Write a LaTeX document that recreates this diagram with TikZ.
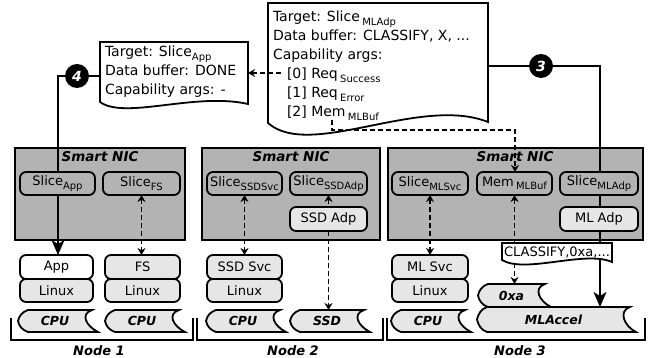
\documentclass[tikz,border=0pt]{standalone}
\usepackage{fontspec}
\setmainfont{DejaVu Sans}
\usetikzlibrary{arrows.meta,calc}
\definecolor{nicgray}{RGB}{179,179,179}
\definecolor{partgray}{RGB}{230,230,230}
\pgfdeclarelayer{under}
\pgfdeclarelayer{wires}
\pgfsetlayers{under,wires,main}
% lowered, smaller index text
\newcommand{\lowsub}[1]{\raisebox{-3.5pt}{\fontsize{10}{10}\selectfont #1}}
% outline of a hardware unit: pointed left end, hollow right end
\newcommand{\hwshape}[1]{%
  \draw[hwline] ($(#1.north west)+(10,0)$) -- (#1.north east)
    .. controls +(-12,4) and +(-12,-6) .. ($(#1.south east)+(6,0)$)
    -- ($(#1.south west)+(10,0)$)
    .. controls +(-6,-2) and +(1,5) .. (#1.west)
    .. controls +(1,-5) and +(-6,2) .. ($(#1.north west)+(10,0)$) -- cycle;}

\begin{document}
\begin{tikzpicture}[x=1pt,y=-1pt,
  every node/.style={inner sep=0pt,outer sep=0pt},
  nicbox/.style={draw,line width=1.8pt,fill=nicgray,anchor=north west},
  niclabel/.style={font=\fontsize{13.5}{14}\selectfont\bfseries\itshape},
  part/.style={draw,line width=1.8pt,rounded corners=6pt,fill=nicgray,minimum height=23pt,font=\fontsize{13}{14}\selectfont},
  lightpart/.style={part,fill=partgray},
  whitepart/.style={part,fill=white},
  hwunit/.style={minimum height=22pt,font=\fontsize{12.5}{13}\selectfont\bfseries\itshape},
  hwline/.style={draw,line width=1.8pt,fill=partgray},
  docline/.style={draw,line width=1.8pt,fill=white},
  doctext/.style={anchor=north west,align=left,font=\fontsize{14}{19}\selectfont},
  badge/.style={circle,fill=black,minimum size=24pt,text=white,font=\fontsize{14}{14}\selectfont\bfseries\itshape},
  flow/.style={line width=2pt,-{Stealth[length=15pt,width=13pt,inset=4pt]}},
  link/.style={line width=1.9pt,dash pattern=on 5pt off 3pt,>={Stealth[length=7pt,width=8pt]}},
  nodelabel/.style={font=\fontsize{13}{13}\selectfont\bfseries\itshape},
  bracket/.style={line width=1.6pt}
]
\useasboundingbox (0,0) rectangle (649,358);

% ---------- smart NIC boards ----------
\begin{pgfonlayer}{under}
\node[nicbox,minimum width=170pt,minimum height=92pt] (nic1) at (15,148) {};
\node[nicbox,minimum width=178pt,minimum height=92pt] (nic2) at (202,148) {};
\node[nicbox,minimum width=255pt,minimum height=92pt] (nic3) at (388,148) {};
\end{pgfonlayer}
\node[niclabel] (nicname1) at (100,157) {Smart NIC};
\node[niclabel] (nicname2) at (291,157) {Smart NIC};
\node[niclabel] (nicname3) at (515,157) {Smart NIC};

% ---------- node 1 ----------
\node[part,minimum width=75pt] (sliceApp) at (57.5,183.5) {Slice\lowsub{App}};
\node[part,minimum width=77pt] (sliceFS) at (141.5,183.5) {Slice\lowsub{FS}};
\node[whitepart,minimum width=73pt,minimum height=24pt] (app) at (56.5,267) {App};
\node[lightpart,minimum width=73pt] (linuxA) at (56.5,290.5) {Linux};
\node[lightpart,minimum width=75pt,minimum height=24pt] (fs) at (142.5,267) {FS};
\node[lightpart,minimum width=75pt] (linuxB) at (142.5,290.5) {Linux};
\node[hwunit,minimum width=74pt] (cpuA) at (55,321) {CPU};
\node[hwunit,minimum width=74pt] (cpuB) at (142,321) {CPU};

% ---------- node 2 ----------
\node[part,minimum width=75pt] (sliceSSDSvc) at (244.5,183.5) {Slice\lowsub{SSDSvc}};
\node[part,minimum width=77pt] (sliceSSDAdp) at (328.5,183.5) {Slice\lowsub{SSDAdp}};
\node[lightpart,minimum width=77pt,minimum height=24pt] (ssdAdp) at (328.5,219) {SSD Adp};
\node[lightpart,minimum width=75pt,minimum height=24pt] (ssdSvc) at (244.5,267) {SSD Svc};
\node[lightpart,minimum width=75pt] (linuxC) at (244.5,290.5) {Linux};
\node[hwunit,minimum width=74pt] (cpuC) at (243,321) {CPU};
\node[hwunit,minimum width=74pt] (ssd) at (327,321) {SSD};

% ---------- node 3 ----------
\node[part,minimum width=76pt] (sliceMLSvc) at (430,183.5) {Slice\lowsub{MLSvc}};
\node[part,minimum width=75pt] (memMLBuf) at (514.5,183.5) {Mem\,\lowsub{MLBuf}};
\node[part,minimum width=78pt] (sliceMLAdp) at (599,183.5) {Slice\lowsub{MLAdp}};
\node[lightpart,minimum width=78pt,minimum height=24pt] (mlAdp) at (599,219) {ML Adp};
\node[lightpart,minimum width=76pt,minimum height=24pt] (mlSvc) at (430,267) {ML Svc};
\node[lightpart,minimum width=76pt] (linuxD) at (430,290.5) {Linux};
\node[hwunit,minimum width=74pt] (cpuD) at (428,321) {CPU};
\node[hwunit,minimum width=67pt,minimum height=23pt] (oxa) at (511.5,295.5) {0xa};
\node[hwunit,minimum width=153pt,minimum height=25pt] (mlaccel) at (553.5,319.5) {MLAccel};

\begin{pgfonlayer}{under}
\hwshape{cpuA}
\hwshape{cpuB}
\hwshape{cpuC}
\hwshape{ssd}
\hwshape{cpuD}
\hwshape{oxa}
\hwshape{mlaccel}
\end{pgfonlayer}

% ---------- capability messages ----------
\node[minimum width=148pt,minimum height=60pt,anchor=north west] (done) at (100,42) {};
\node[minimum width=220pt,minimum height=120pt,anchor=north west] (req) at (268,3) {};
\begin{pgfonlayer}{under}
\draw[docline] (done.south west) -- (done.north west) -- (done.north east)
  -- ($(done.south east)+(0,2)$) .. controls (195,92) and (125,120) .. (done.south west) -- cycle;
\draw[docline] (req.south west) -- (req.north west) -- (req.north east)
  -- ($(req.south east)+(0,-1)$) .. controls (420,95) and (310,160) .. (req.south west) -- cycle;
\end{pgfonlayer}
\node[doctext] (doneText) at (105,46) {Target: Slice\lowsub{App}\\Data buffer: DONE\\Capability args: -};
\node[doctext] (reqText) at (273,11) {Target: Slice\,\lowsub{MLAdp}\\Data buffer: CLASSIFY, X, ...\\Capability args:\\
  \hspace*{14pt}[0] Req\,\lowsub{Success}\\\hspace*{14pt}[1] Req\,\lowsub{Error}\\\hspace*{14pt}[2] Mem\,\lowsub{MLBuf}};

\node[badge] (b4) at (77,76) {4};
\node[badge] (b3) at (541,66) {3};

% ---------- connectors ----------
\coordinate (turn4) at (58,76);
\coordinate (turn3) at (600,66);
\coordinate (retStart) at (281,73);
\coordinate (bufStart) at (332,120);
\coordinate (bufTurn) at (515,130);
\begin{pgfonlayer}{wires}
\draw[flow] (done.west |- b4) -- (b4) -- (turn4) -- (turn4 |- app.north);
\draw[flow] (req.east |- b3) -- (b3) -- (turn3) -- (turn3 |- mlaccel.north);
\draw[link,->] (retStart) -- (done.east |- retStart);
\draw[link,->] (bufStart) |- (bufTurn) -- (bufTurn |- memMLBuf.north);
\draw[link,<->] (sliceFS.south) -- (sliceFS.south |- fs.north);
\draw[link,<->] (sliceSSDSvc.south) -- (sliceSSDSvc.south |- ssdSvc.north);
\draw[link,<->] (sliceSSDAdp.south) -- (sliceSSDAdp.south |- ssd.north);
\draw[link,<->] (sliceMLSvc.south) -- (sliceMLSvc.south |- mlSvc.north);
\draw[link,<->] (memMLBuf.south) -- (memMLBuf.south |- oxa.north);
\end{pgfonlayer}

% command written into the accelerator buffer
\node[minimum width=110pt,minimum height=17pt,anchor=north west] (cmd) at (502,243) {};
\draw[docline] (cmd.south west) -- (cmd.north west) -- (cmd.north east)
  -- ($(cmd.south east)+(0,2)$) .. controls (585,250) and (525,274) .. (cmd.south west) -- cycle;
\node[font=\fontsize{13}{13}\selectfont] (cmdText) at (557,252) {CLASSIFY,0xa,...};

% ---------- machine brackets ----------
\draw[bracket] (11,318) -- (11,340) -- (193,340) -- (193,318);
\draw[bracket] (197,318) -- (197,340) -- (383,340) -- (383,318);
\draw[bracket] (387,318) -- (387,340) -- (645,340) -- (645,318);
\node[nodelabel] (label1) at (99,351) {Node 1};
\node[nodelabel] (label2) at (293,351) {Node 2};
\node[nodelabel] (label3) at (520,351) {Node 3};
\end{tikzpicture}
\end{document}
